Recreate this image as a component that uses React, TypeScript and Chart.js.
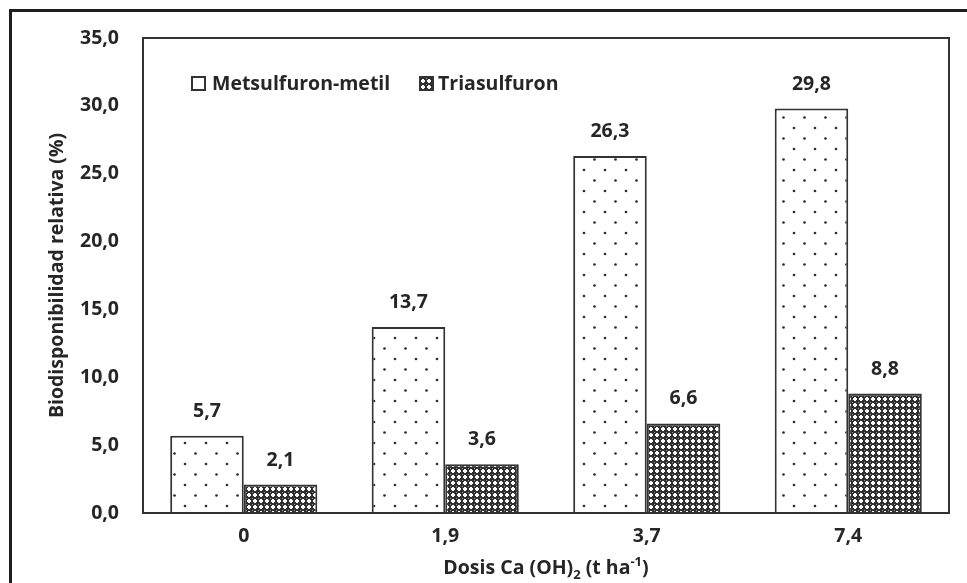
import React, { useEffect, useRef } from 'react';
import { Chart, registerables } from 'chart.js';

Chart.register(...registerables);

const categories = ['0', '1,9', '3,7', '7,4'];
const metsulfuron = [5.7, 13.7, 26.3, 29.8];
const triasulfuron = [2.1, 3.6, 6.6, 8.8];
const seriesNames = ['Metsulfuron-metil', 'Triasulfuron'];
const yMin = 0;
const yMax = 35;
const yStep = 5;
const yTitle = 'Biodisponibilidad relativa (%)';

const FONT = '"Open Sans", Lato, sans-serif';
const TEXT = '#262626';
const LINE = '#333333';
const FS = 19.5;

const fmt = (v: number) => v.toFixed(1).replace('.', ',');

function dotPattern(ctx: CanvasRenderingContext2D) {
  const t = document.createElement('canvas');
  t.width = 21;
  t.height = 21;
  const c = t.getContext('2d')!;
  c.fillStyle = '#ffffff';
  c.fillRect(0, 0, 21, 21);
  c.fillStyle = '#2e2e2e';
  const dots = [
    [17, 2],
    [6.5, 12.5],
  ];
  for (const [x, y] of dots) {
    c.beginPath();
    c.arc(x, y, 1.35, 0, Math.PI * 2);
    c.fill();
  }
  return ctx.createPattern(t, 'repeat')!;
}

function checkPattern(ctx: CanvasRenderingContext2D) {
  const t = document.createElement('canvas');
  t.width = 6;
  t.height = 6;
  const c = t.getContext('2d')!;
  c.fillStyle = '#303030';
  c.fillRect(0, 0, 6, 6);
  c.fillStyle = '#ffffff';
  c.fillRect(1, 2, 4, 2);
  c.fillRect(2, 1, 2, 4);
  c.fillStyle = '#9a9a9a';
  c.fillRect(0, 0, 1, 1);
  return ctx.createPattern(t, 'repeat')!;
}

const decorPlugin = {
  id: 'decor',
  beforeDraw(chart: any) {
    const ctx = chart.ctx as CanvasRenderingContext2D;
    ctx.save();
    ctx.fillStyle = '#ffffff';
    ctx.fillRect(0, 0, chart.width, chart.height);
    ctx.strokeStyle = '#1e1e1e';
    ctx.lineWidth = 3;
    ctx.strokeRect(10.5, 10.5, 1200, 1200);
    ctx.restore();
  },
  afterDatasetsDraw(chart: any) {
    const ctx = chart.ctx as CanvasRenderingContext2D;
    const area = chart.chartArea;
    ctx.save();
    // plot border
    ctx.strokeStyle = LINE;
    ctx.lineWidth = 2;
    ctx.strokeRect(area.left, area.top, area.right - area.left, area.bottom - area.top);

    // data labels
    ctx.fillStyle = TEXT;
    ctx.font = `bold ${FS}px ${FONT}`;
    ctx.textAlign = 'center';
    ctx.textBaseline = 'alphabetic';
    chart.data.datasets.forEach((ds: any, i: number) => {
      const meta = chart.getDatasetMeta(i);
      meta.data.forEach((bar: any, j: number) => {
        ctx.fillText(fmt(ds.data[j]), bar.x, bar.y - 19);
      });
    });

    // legend
    const legendY = 84;
    const items = [
      { box: 192, text: 212, fill: '#ffffff' as any },
      { box: 420, text: 438, fill: chart.data.datasets[1].backgroundColor },
    ];
    items.forEach((it, i) => {
      ctx.fillStyle = it.fill;
      ctx.fillRect(it.box, legendY - 7, 13, 13);
      ctx.strokeStyle = LINE;
      ctx.lineWidth = 2;
      ctx.strokeRect(it.box, legendY - 7, 13, 13);
      ctx.fillStyle = TEXT;
      ctx.textAlign = 'left';
      ctx.textBaseline = 'middle';
      ctx.font = `bold ${FS}px ${FONT}`;
      ctx.fillText(seriesNames[i], it.text, legendY);
    });

    // y title
    ctx.save();
    ctx.translate(57, (area.top + area.bottom) / 2);
    ctx.rotate(-Math.PI / 2);
    ctx.textAlign = 'center';
    ctx.textBaseline = 'middle';
    ctx.fillStyle = TEXT;
    ctx.font = `bold ${FS}px ${FONT}`;
    ctx.fillText(yTitle, 0, 0);
    ctx.restore();

    // x title with sub/superscript
    const parts = [
      { t: 'Dosis Ca (OH)', size: FS, dy: 0 },
      { t: '2', size: 13, dy: 5 },
      { t: ' (t ha', size: FS, dy: 0 },
      { t: '-1', size: 13, dy: -8 },
      { t: ')', size: FS, dy: 0 },
    ];
    let total = 0;
    const widths = parts.map((p) => {
      ctx.font = `bold ${p.size}px ${FONT}`;
      const w = ctx.measureText(p.t).width;
      total += w;
      return w;
    });
    let x = (area.left + area.right) / 2 - total / 2;
    const baseY = 574;
    ctx.textAlign = 'left';
    ctx.textBaseline = 'alphabetic';
    ctx.fillStyle = TEXT;
    parts.forEach((p, i) => {
      ctx.font = `bold ${p.size}px ${FONT}`;
      ctx.fillText(p.t, x, baseY + p.dy);
      x += widths[i];
    });
    ctx.restore();
  },
};

export default function App() {
  const ref = useRef<HTMLCanvasElement | null>(null);

  useEffect(() => {
    const canvas = ref.current!;
    const ctx = canvas.getContext('2d')!;
    const chart = new Chart(ctx, {
      type: 'bar',
      data: {
        labels: categories,
        datasets: [
          {
            label: seriesNames[0],
            data: metsulfuron,
            backgroundColor: dotPattern(ctx),
            borderColor: LINE,
            borderWidth: 2,
          },
          {
            label: seriesNames[1],
            data: triasulfuron,
            backgroundColor: checkPattern(ctx),
            borderColor: LINE,
            borderWidth: 2,
          },
        ],
      },
      options: {
        responsive: false,
        animation: false,
        layout: { padding: { top: 38, right: 18, left: 0, bottom: 0 } },
        plugins: {
          legend: { display: false },
          tooltip: { enabled: false },
        },
        datasets: {
          bar: { barPercentage: 1, categoryPercentage: 0.73 },
        },
        scales: {
          x: {
            grid: { display: false, drawTicks: false },
            border: { display: false },
            ticks: {
              padding: 12,
              color: TEXT,
              font: { family: FONT, size: FS, weight: 'bold' },
            },
            afterFit: (s: any) => {
              s.height = 70;
            },
          },
          y: {
            min: yMin,
            max: yMax,
            grid: { display: false, drawTicks: false },
            border: { display: false },
            ticks: {
              stepSize: yStep,
              padding: 24,
              color: TEXT,
              font: { family: FONT, size: FS, weight: 'bold' },
              callback: (v: any) => fmt(Number(v)),
            },
            afterFit: (s: any) => {
              s.width = 143;
            },
          },
        },
      } as any,
      plugins: [decorPlugin],
    });
    return () => chart.destroy();
  }, []);

  return (
    <canvas
      ref={ref}
      width={967}
      height={583}
      style={{ position: 'fixed', left: 0, top: 0, width: 967, height: 583 }}
    />
  );
}
